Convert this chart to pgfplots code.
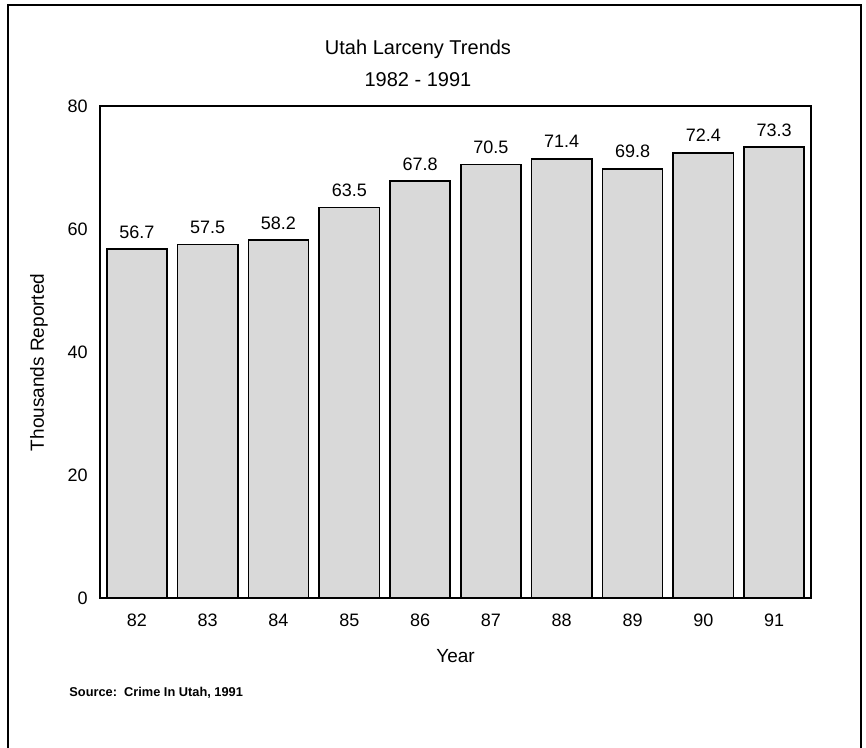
\documentclass[border=0pt]{standalone}
\usepackage{fontspec}
\setmainfont{Liberation Sans}
\usepackage{pgfplots}
\pgfplotsset{compat=1.18}
\begin{document}
\begin{tikzpicture}
\useasboundingbox (0pt,0pt) rectangle (433pt,374pt);
% outer frame (open at the bottom, as in the scan)
\draw[line width=1pt] (4pt,0pt) -- (4pt,371.5pt) -- (430.5pt,371.5pt) -- (430.5pt,0pt);
% titles
\node[anchor=base,inner sep=0pt,font=\fontsize{10}{12}\selectfont] at (209pt,346.5pt) {Utah Larceny Trends};
\node[anchor=base,inner sep=0pt,font=\fontsize{10}{12}\selectfont] at (209pt,330.5pt) {1982 - 1991};
\node[anchor=base west,inner sep=0pt,font=\fontsize{6.4}{8}\selectfont\bfseries] at (34.5pt,25.5pt) {Source:\ \ Crime In Utah, 1991};
\begin{axis}[
  at={(50pt,75pt)}, anchor=south west,
  scale only axis, width=355.5pt, height=246pt,
  xmin=-0.52, xmax=9.52, ymin=0, ymax=80,
  xtick={0,...,9},
  xticklabels={82,83,84,85,86,87,88,89,90,91},
  ytick={0,20,40,60,80},
  major tick length=0pt,
  axis line style={line width=0.8pt},
  tick label style={font=\fontsize{9}{11}\selectfont, inner sep=0pt},
  /pgf/number format/assume math mode=true,
  yticklabel style={xshift=-6pt},
  xticklabel style={yshift=-8pt},
  xlabel={Year}, ylabel={Thousands Reported},
  label style={font=\fontsize{9.5}{11}\selectfont},
  xlabel style={at={(axis description cs:0.5,-0.132)}, anchor=base, inner sep=0pt},
  ylabel style={at={(axis description cs:-0.0858,0.479)}, anchor=center, inner sep=0pt},
  ybar, bar width=0.85, bar shift=0pt,
  nodes near coords,
  nodes near coords style={font=\fontsize{9}{11}\selectfont, anchor=base, inner sep=0pt, yshift=5.5pt,
    /pgf/number format/.cd, fixed, fixed zerofill, precision=1, assume math mode=true},
  clip=false,
]
\addplot[draw=black, line width=0.8pt, fill=black!15] coordinates {
  (0,56.7) (1,57.5) (2,58.2) (3,63.5) (4,67.8) (5,70.5) (6,71.4) (7,69.8) (8,72.4) (9,73.3)
};
\end{axis}
\end{tikzpicture}
\end{document}
